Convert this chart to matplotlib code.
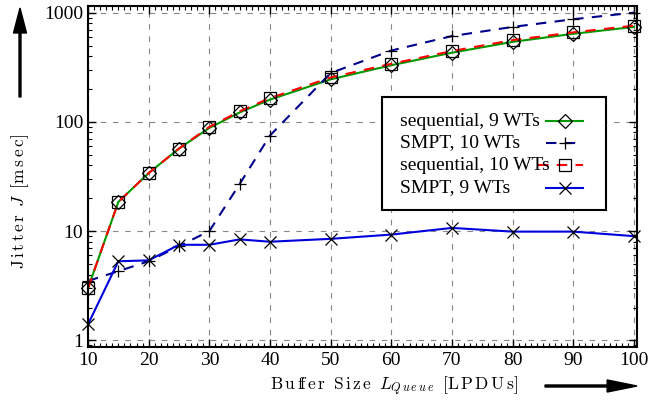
import numpy as np
import matplotlib
matplotlib.use("Agg")
import matplotlib.pyplot as plt
from matplotlib.lines import Line2D
from matplotlib.patches import Rectangle, FancyArrow
from matplotlib.ticker import FixedLocator, NullFormatter, LogLocator

plt.rcParams['font.family'] = ['Liberation Serif', 'DejaVu Serif']
plt.rcParams['mathtext.fontset'] = 'cm'

# buffer sizes [LPDUs]
buf = [10, 15, 20, 25, 30, 35, 40, 50, 60, 70, 80, 90, 100]

# jitter [msec]
seq9 = [3.0, 18.5, 34, 57, 88, 122, 160, 245, 330, 430, 540, 640, 740]
smpt10 = [3.5, 4.3, 5.3, 7.3, 10.0, 27, 75, 280, 450, 610, 740, 870, 1000]
seq10 = [3.0, 18.5, 34, 57, 90, 125, 165, 255, 340, 445, 560, 660, 760]
smpt9 = [1.4, 5.3, 5.4, 7.5, 7.5, 8.4, 8.0, 8.5, 9.3, 10.7, 9.9, 9.9, 9.0]

labels = ['sequential, 9 WTs', 'SMPT, 10 WTs', 'sequential, 10 WTs', 'SMPT, 9 WTs']
xticks = [10, 20, 30, 40, 50, 60, 70, 80, 90, 100]
yticks = [1, 10, 100, 1000]

fig = plt.figure(figsize=(6.49, 4.03), dpi=100)
ax = fig.add_axes([88/649, 56/403, 549/649, 341/403])

mk = dict(markeredgecolor='black', markerfacecolor='none', markersize=9, markeredgewidth=0.9)
styles = [
    dict(color='#009900', ls='-', marker='D', mk=dict(mk, markersize=7)),
    dict(color='#00008b', ls=(0, (5, 4)), marker='+', mk=mk),
    dict(color='#ff0000', ls=(0, (5, 4)), marker='s', mk=mk),
    dict(color='#0000dd', ls='-', marker='x', mk=mk),
]
series = [seq9, smpt10, seq10, smpt9]
for ys, st, lab in zip(series, styles, labels):
    ax.plot(buf, ys, color=st['color'], ls=st['ls'], lw=1.5, marker=st['marker'], label=lab,
            clip_on=False, **st['mk'])

ax.set_yscale('log')
ax.set_xlim(10, 100.5)
ax.set_ylim(0.87, 1150)
ax.set_xticks(xticks)
ax.set_xticklabels([str(t) for t in xticks])
ax.set_yticks(yticks)
ax.set_yticklabels([str(t) for t in yticks])
ax.xaxis.set_minor_locator(FixedLocator(np.arange(10, 101, 1)))
ax.yaxis.set_minor_locator(LogLocator(base=10, subs=np.arange(2, 10)))
ax.yaxis.set_minor_formatter(NullFormatter())
ax.tick_params(which='both', direction='in', top=True, right=True, labelsize=14)
ax.tick_params(which='major', length=6, width=1)
ax.tick_params(which='minor', length=3, width=0.8)
for s in ax.spines.values():
    s.set_linewidth(1.5)
ax.grid(True, which='major', color='#888888', linestyle=(0, (5, 6)), lw=0.8)

# legend drawn by hand: labels left, samples right
W, H = 649.0, 403.0
def fx(px): return px / W
def fy(py): return 1 - py / H
fig.add_artist(Rectangle((fx(382), fy(210)), fx(606) - fx(382), fy(97) - fy(210),
                         transform=fig.transFigure, facecolor='white', edgecolor='black', lw=1.5, zorder=5))
rows = [121, 143, 165, 188]
for st, lab, ry in zip(styles, labels, rows):
    fig.text(fx(400), fy(ry), lab, ha='left', va='center', fontsize=14, zorder=6)
    x0 = 538 if lab == 'sequential, 10 WTs' else 546
    fig.add_artist(Line2D([fx(x0), fx(583)], [fy(ry), fy(ry)], color=st['color'], ls=st['ls'], lw=1.5,
                          transform=fig.transFigure, zorder=6))
    fig.add_artist(Line2D([fx(565)], [fy(ry)], marker=st['marker'], ls='none',
                          transform=fig.transFigure, zorder=7, **st['mk']))

xlab = (r'$\mathrm{B\,u\,f\!f\,e\,r\;\;S\,i\,z\,e}\;\;L_{Q\,u\,e\,u\,e}\;\;'
        r'[\mathrm{L\,P\,D\,U\,s}]$')
fig.text(fx(394), fy(386), xlab, ha='center', va='center', fontsize=12.5)
ylab = r'$\mathrm{J\,i\,t\,t\,e\,r}\;\;J\;\;[\mathrm{m\,s\,e\,c}]$'
fig.text(fx(20), fy(202), ylab, ha='center', va='center', fontsize=12.5, rotation=90)

fig.add_artist(FancyArrow(fx(545), fy(386), fx(637) - fx(545), 0, width=0.005,
                          head_width=0.03, head_length=0.046, length_includes_head=True,
                          transform=fig.transFigure, color='black'))
fig.add_artist(FancyArrow(fx(20), fy(97), 0, fy(8) - fy(97), width=0.003,
                          head_width=0.02, head_length=0.062, length_includes_head=True,
                          transform=fig.transFigure, color='black'))

fig.savefig('out.png', dpi=100)
